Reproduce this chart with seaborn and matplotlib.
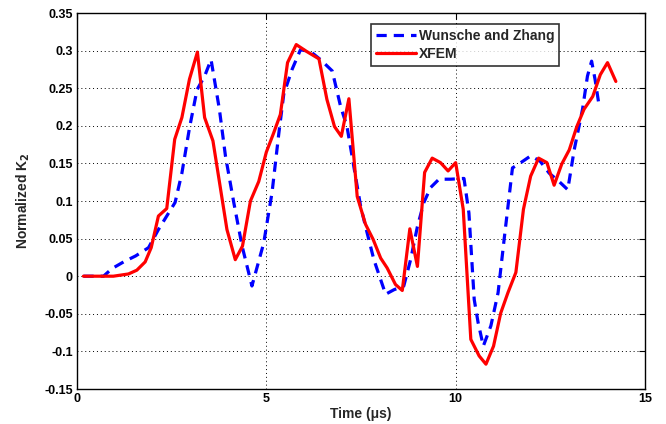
import matplotlib
matplotlib.use("Agg")
import matplotlib.pyplot as plt
import seaborn as sns
import pandas as pd

# Wunsche and Zhang (reference)
wz_t = [0.17, 0.70, 0.92, 1.23, 1.55, 1.89, 2.15, 2.37, 2.59, 2.77, 2.97, 3.17, 3.37,
        3.54, 3.76, 3.92, 4.14, 4.36, 4.62, 4.93, 5.15, 5.33, 5.46, 5.68, 5.90, 6.16,
        6.43, 6.74, 6.96, 7.13, 7.31, 7.49, 7.66, 7.84, 8.15, 8.37, 8.63, 8.81, 8.99,
        9.16, 9.34, 9.56, 9.87, 10.22, 10.35, 10.49, 10.59, 10.73, 10.93, 11.12, 11.28,
        11.50, 11.72, 11.98, 12.23, 12.47, 12.73, 12.96, 13.13, 13.35, 13.48, 13.59,
        13.68, 13.79]
wz_k = [0.0, 0.0, 0.010, 0.019, 0.027, 0.038, 0.062, 0.080, 0.098, 0.137, 0.197, 0.248,
        0.266, 0.288, 0.222, 0.160, 0.098, 0.040, -0.013, 0.044, 0.111, 0.190, 0.242,
        0.275, 0.301, 0.299, 0.288, 0.273, 0.226, 0.199, 0.146, 0.093, 0.058, 0.022,
        -0.024, -0.018, -0.013, 0.022, 0.066, 0.098, 0.118, 0.129, 0.129, 0.130, 0.084,
        -0.031, -0.061, -0.093, -0.066, -0.022, 0.049, 0.144, 0.151, 0.160, 0.153,
        0.137, 0.126, 0.115, 0.168, 0.222, 0.266, 0.286, 0.262, 0.226]

# XFEM
xf_t = [0.17, 0.96, 1.36, 1.58, 1.80, 1.96, 2.15, 2.37, 2.58, 2.77, 2.97, 3.18, 3.37,
        3.59, 3.96, 4.18, 4.37, 4.58, 4.80, 5.00, 5.19, 5.37, 5.56, 5.79, 6.06, 6.39,
        6.60, 6.80, 6.98, 7.18, 7.40, 7.62, 7.82, 8.02, 8.19, 8.41, 8.59, 8.79, 8.99,
        9.18, 9.38, 9.60, 9.80, 10.00, 10.20, 10.40, 10.62, 10.80, 11.00, 11.19, 11.38,
        11.59, 11.79, 11.98, 12.19, 12.41, 12.60, 12.80, 13.00, 13.20, 13.39, 13.62,
        13.82, 14.01, 14.23]
xf_k = [0.0, 0.0, 0.003, 0.008, 0.019, 0.038, 0.080, 0.090, 0.182, 0.211, 0.262, 0.298,
        0.211, 0.180, 0.062, 0.022, 0.040, 0.100, 0.126, 0.165, 0.190, 0.215, 0.284,
        0.308, 0.299, 0.289, 0.235, 0.199, 0.186, 0.236, 0.106, 0.069, 0.049, 0.024,
        0.011, -0.011, -0.019, 0.063, 0.013, 0.138, 0.157, 0.151, 0.140, 0.151, 0.089,
        -0.084, -0.106, -0.117, -0.093, -0.049, -0.022, 0.005, 0.089, 0.133, 0.157,
        0.151, 0.121, 0.149, 0.168, 0.199, 0.222, 0.239, 0.268, 0.284, 0.259]

labels = ["Wunsche and Zhang", "XFEM"]
x_ticks = [0, 5, 10, 15]
y_ticks = [-0.15, -0.1, -0.05, 0, 0.05, 0.1, 0.15, 0.2, 0.25, 0.3, 0.35]
y_ticklabels = ["-0.15", "-0.1", "-0.05", "0", "0.05", "0.1", "0.15", "0.2", "0.25", "0.3", "0.35"]

sns.set_theme(style="white")
plt.rcParams["font.family"] = ["Liberation Sans", "DejaVu Sans"]
plt.rcParams["font.weight"] = "bold"

fig = plt.figure(figsize=(6.66, 4.24), dpi=100)
ax = fig.add_axes([77 / 666, 1 - 389 / 424, (645 - 77) / 666, (389 - 13) / 424])

df_wz = pd.DataFrame({"t": wz_t, "k": wz_k})
df_xf = pd.DataFrame({"t": xf_t, "k": xf_k})

sns.lineplot(data=df_wz, x="t", y="k", sort=False, ax=ax, color="#0000ff",
             linewidth=2.3, dashes=False, label=labels[0])
ax.lines[-1].set_dashes([3.2, 2.2])
sns.lineplot(data=df_xf, x="t", y="k", sort=False, ax=ax, color="#ff0000",
             linewidth=2.3, label=labels[1])

ax.set_xlim(0, 15)
ax.set_ylim(-0.15, 0.35)
ax.set_xticks(x_ticks)
ax.set_xticklabels([str(v) for v in x_ticks])
ax.set_yticks(y_ticks)
ax.set_yticklabels(y_ticklabels)
ax.tick_params(direction="in", length=4, width=0.8, colors="black", labelsize=9,
               top=True, right=True, pad=3)
for lab in ax.get_xticklabels() + ax.get_yticklabels():
    lab.set_fontweight("bold")
ax.grid(True, color="black", linestyle=(0, (1, 3)), linewidth=0.7)
for s in ax.spines.values():
    s.set_color("black")
    s.set_linewidth(1.0)

ax.set_xlabel("Time (\u03bcs)", fontsize=10, fontweight="bold", labelpad=1)
ax.set_ylabel("Normalized K$_2$", fontsize=10, fontweight="bold", labelpad=9)

leg = ax.legend(loc="upper left", bbox_to_anchor=((371 - 77) / 568, 1 - (24 - 13) / 376),
                fontsize=10, frameon=True, fancybox=False, edgecolor="black",
                handlelength=2.9, handletextpad=0.2, borderpad=0.35, labelspacing=0.3,
                borderaxespad=0)
leg.get_frame().set_linewidth(1.2)
for t in leg.get_texts():
    t.set_fontweight("bold")

fig.savefig("out.png", dpi=100, facecolor="white")
